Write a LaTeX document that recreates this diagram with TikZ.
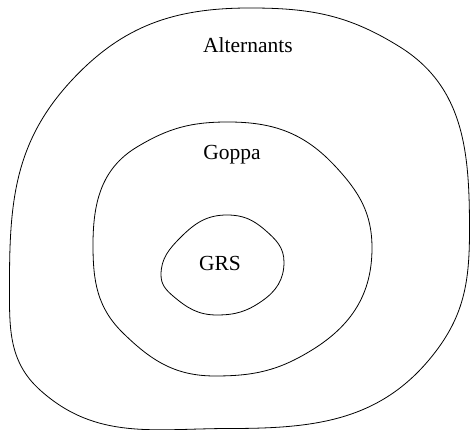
\documentclass[tikz,border=0pt]{standalone}
\usepackage{fontspec}
\setmainfont{Liberation Serif}
\begin{document}
\begin{tikzpicture}[x=1pt,y=1pt,
  setline/.style={draw=black,line width=0.8pt},
  setlabel/.style={font=\fontsize{21.5}{24}\selectfont,inner sep=0pt}]
\useasboundingbox (0,0) rectangle (471,430);
% Alternants
\draw[setline] (250,422) to[out=0,in=148] (400,383) to[out=-32,in=90] (469.5,200)
  to[out=-90,in=51.6] (433,75) to[out=231.6,in=0] (230,1.5)
  to[out=180,in=-42] (40,40) to[out=138,in=-90] (9.5,148)
  to[out=90,in=227] (72,350) to[out=47,in=180] cycle;
% Goppa
\draw[setline] (228,308) to[out=0,in=133] (335,264) to[out=-47,in=90] (372,182)
  to[out=-90,in=31.7] (312,80) to[out=211.7,in=0] (215,54)
  to[out=180,in=-44.4] (123,97) to[out=135.6,in=-90] (93,185)
  to[out=90,in=211] (137,283) to[out=31,in=180] cycle;
% GRS
\draw[setline] (227,215) to[out=0,in=139] (265,200) to[out=-41,in=90] (284,168)
  to[out=-90,in=34.8] (262,129) to[out=214.8,in=0] (217,115)
  to[out=180,in=-40.4] (173,134) to[out=139.6,in=-90] (161,155)
  to[out=90,in=225] (181,193) to[out=45,in=180] cycle;
\node[setlabel] (alt) at (248,385) {Alternants};
\node[setlabel] (gop) at (232,275) {Goppa};
\node[setlabel] (grs) at (220,167) {GRS};
\end{tikzpicture}
\end{document}
